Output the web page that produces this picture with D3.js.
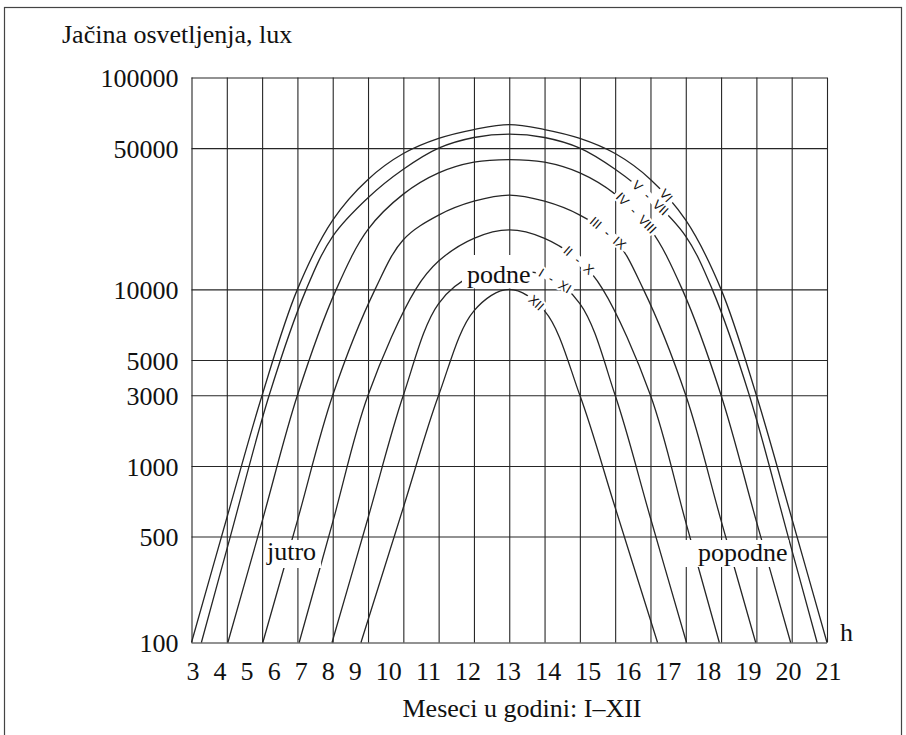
<!DOCTYPE html>
<html><head><meta charset="utf-8">
<script src="https://cdn.jsdelivr.net/npm/d3@7"></script>
<style>body{margin:0;background:#fff}svg{display:block}</style>
</head><body>
<svg id="c" width="906" height="735"></svg>
<script>
// ---------- DATA ----------
const xTickLabels = [3,4,5,6,7,8,9,10,11,12,13,14,15,16,17,18,19,20,21];
const gridHours   = [3,4,5,6,7,8,9,10,11,12,13,14,15,16,17,18,19,20,21];
const yTicks = [100,500,1000,3000,5000,10000,50000,100000];

// [hour, lux]
const curveVI    = [[3,100],[4,600],[5,3000],[6,10000],[7,22000],[8,35000],[9,47000],[10,55000],[11,60000],[12,63000],[13,60000],[14,55000],[15,47000],[16,35000],[17,22000],[18,10000],[19,3000],[20,600],[21,100]];
const curveVVII  = [[3.28,100],[4.1,500],[5.2,3000],[6.25,10000],[7,18300],[8,28400],[9,39300],[10,50000],[11,55500],[12,57400],[13,55500],[14,50000],[15,39300],[16,28400],[17,18300],[17.75,10000],[18.8,3000],[19.9,500],[20.72,100]];
const curveIVVIII= [[4.03,100],[5,580],[6,3000],[7.1,10000],[8,19800],[9,29600],[10,37700],[11,42600],[12,43900],[13,42600],[14,37700],[15,29600],[16,19800],[16.9,10000],[18,3000],[19,580],[19.97,100]];
const curveIIIIX = [[5.02,100],[6,585],[7,3000],[8.2,10000],[9,17600],[10,23300],[11,27300],[12,29300],[13,27300],[14,23300],[15,17600],[15.8,10000],[17,3000],[18,585],[18.98,100]];
const curveIIX   = [[6.05,100],[7,576],[8,3000],[9.35,10000],[10,13800],[11,17900],[12,19700],[13,17900],[14,13800],[14.65,10000],[16,3000],[17,576],[17.95,100]];
const curveIXI   = [[6.98,100],[8,600],[9,3000],[10,8700],[11,11750],[12,12300],[13,11750],[14,8700],[15,3000],[16,600],[17.02,100]];
const curveXII   = [[7.8,100],[9,665],[10,3000],[11,8100],[12,10000],[13,8100],[14,3000],[15,665],[16.2,100]];

const curveNames = ["VI","V - VII","IV - VIII","III - IX","II - X","I - XI","XII"];
const labelHours = [16.45,16.0,15.6,14.8,13.97,13.3,12.77];

// ---------- LAYOUT ----------
const P = {left:191.5, right:827, top:77.5, bottom:642.5};
const Y_STEPS = [0,3,5,7,8,10,14,16];
const SERIF = "'Liberation Serif','Times New Roman',serif";
const SANS = "'Liberation Sans',Arial,sans-serif";
const INK = "#262626";

const svg = d3.select("#c");
svg.append("rect").attr("width",906).attr("height",735).attr("fill","#fff");
svg.append("rect").attr("x",4.5).attr("y",7.5).attr("width",897).attr("height",760)
   .attr("fill","none").attr("stroke","#444").attr("stroke-width",1.2);

const x = d3.scaleLinear().domain([3,21]).range([P.left,P.right]);
const unit = (P.bottom-P.top)/16;
const yLog = d3.scaleLinear().domain(yTicks.map(Math.log10)).range(Y_STEPS.map(s=>P.bottom-s*unit));
const y = v => yLog(Math.log10(v));

// grid: horizontal
const gy = svg.append("g").attr("transform",`translate(${P.left},0)`)
  .call(d3.axisLeft(yLog).tickValues(yTicks.map(Math.log10)).tickSize(-(P.right-P.left)).tickPadding(13)
        .tickFormat(d=>String(Math.round(Math.pow(10,d)))));
gy.select(".domain").remove();
gy.selectAll("line").attr("stroke",INK).attr("stroke-width",1.1);
gy.selectAll("text").attr("font-family",SERIF).attr("font-size",26).attr("fill","#111").attr("dy","0.36em");

// grid: vertical
const gx = svg.append("g").attr("transform",`translate(0,${P.bottom})`)
  .call(d3.axisBottom(x).tickValues(gridHours).tickSize(-(P.bottom-P.top)).tickFormat(""));
gx.select(".domain").remove();
gx.selectAll("line").attr("stroke",INK).attr("stroke-width",1.1);

// curves
const curves = [curveVI,curveVVII,curveIVVIII,curveIIIIX,curveIIX,curveIXI,curveXII];
const line = d3.line().x(d=>x(d[0])).y(d=>y(d[1])).curve(d3.curveCatmullRom.alpha(0.5));
const paths = svg.append("g").selectAll("path").data(curves).join("path")
  .attr("d",line).attr("fill","none").attr("stroke",INK).attr("stroke-width",1.3);

// text boxes (white background breaking lines)
const boxed = [
  {text:"jutro",   x:267, y:560, padL:3,  padR:5, top:540, bottom:568},
  {text:"popodne", x:698, y:561, padL:13, padR:1, top:540, bottom:567},
  {text:"podne",   x:467, y:283, padL:5,  padR:2, top:255, bottom:288.5}
];
boxed.forEach(b=>{
  const r = svg.append("rect").attr("fill","#fff");
  const t = svg.append("text").attr("x",b.x).attr("y",b.y).text(b.text)
    .attr("font-family",SERIF).attr("font-size",26).attr("fill","#111");
  const w = t.node().getComputedTextLength();
  r.attr("x",b.x-b.padL).attr("width",w+b.padL+b.padR).attr("y",b.top).attr("height",b.bottom-b.top);
});

// month labels along curves (curve is interrupted under the whole label)
paths.each(function(d,i){
  const p = this, L = p.getTotalLength(), tx = x(labelHours[i]);
  let lo=L/2, hi=L;
  for(let k=0;k<40;k++){const m=(lo+hi)/2; if(p.getPointAtLength(m).x<tx) lo=m; else hi=m;}
  const pt = p.getPointAtLength(lo), a = p.getPointAtLength(Math.max(0,lo-3)), b = p.getPointAtLength(Math.min(L,lo+3));
  const ang = Math.atan2(b.y-a.y,b.x-a.x)*180/Math.PI;
  const g = svg.append("g").attr("transform",`translate(${pt.x},${pt.y}) rotate(${ang})`);
  const r = g.append("rect").attr("fill","#fff");
  const t = g.append("text").attr("text-anchor","middle").attr("dy","0.36em")
    .attr("font-family",SANS).attr("font-size",13).attr("word-spacing",4).attr("fill","#111")
    .attr("stroke","#fff").attr("stroke-width",4).attr("stroke-linejoin","round").attr("paint-order","stroke")
    .text(curveNames[i]);
  const bb = t.node().getBBox();
  r.attr("x",bb.x-3).attr("width",bb.width+6).attr("y",-4).attr("height",8);
});

// x tick labels, typeset as one line between first and last grid line
const xl = svg.append("g");
const xt = xl.selectAll("text").data(xTickLabels).join("text").text(d=>d)
  .attr("font-family",SERIF).attr("font-size",26).attr("fill","#111").attr("y",680);
const widths = xt.nodes().map(n=>n.getComputedTextLength());
const c0 = x(xTickLabels[0])+1.5, c1 = x(xTickLabels[xTickLabels.length-1])+1.5;
const startX = c0-widths[0]/2, endX = c1+widths[widths.length-1]/2;
const gap = (endX-startX-d3.sum(widths))/(widths.length-1);
let cur = startX;
xt.each(function(d,i){ d3.select(this).attr("x",cur); cur += widths[i]+gap; });

// titles
svg.append("text").attr("x",62).attr("y",43).text("Jačina osvetljenja, lux")
  .attr("font-family",SERIF).attr("font-size",26).attr("fill","#111");
svg.append("text").attr("x",840).attr("y",641).text("h")
  .attr("font-family",SERIF).attr("font-size",26).attr("fill","#111");
svg.append("text").attr("x",522).attr("y",717).attr("text-anchor","middle").text("Meseci u godini: I–XII")
  .attr("font-family",SERIF).attr("font-size",26).attr("fill","#111");
</script>
</body></html>
